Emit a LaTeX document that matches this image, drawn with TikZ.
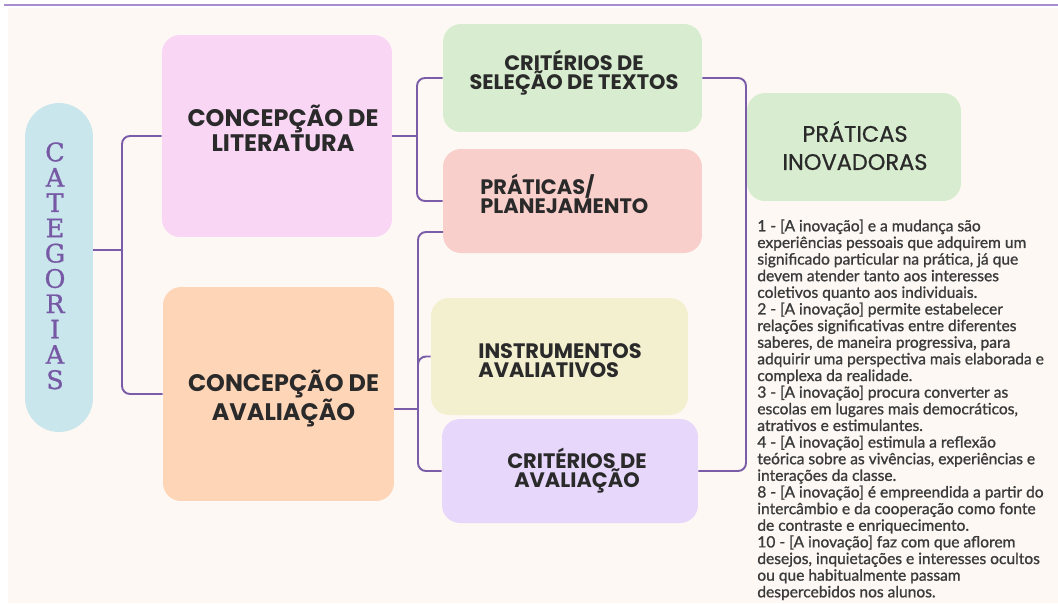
\documentclass[tikz,border=0pt]{standalone}
\usepackage{fontspec}
\usepackage{xcolor}
\usepackage{tikz}
\setmainfont{Lato}
\newfontfamily\poppins{Poppins}
\newfontfamily\poppinsmed[FakeBold=0.8]{Poppins}
\newfontfamily\slab[FakeBold=0.9]{DejaVu Serif}
\newfontfamily\parafont[FakeBold=1.1]{Lato}
\definecolor{bgcream}{HTML}{FDF8F4}
\definecolor{topline}{HTML}{A88ECA}
\definecolor{connpurple}{HTML}{7B5CA8}
\definecolor{letterpurple}{HTML}{7658A5}
\definecolor{ink}{HTML}{2A2A2A}
\definecolor{paragray}{HTML}{3B3B3B}
\definecolor{catfill}{HTML}{C9E6EC}
\definecolor{litfill}{HTML}{F8D6F4}
\definecolor{avafill}{HTML}{FED6B7}
\definecolor{selfill}{HTML}{D8EDCF}
\definecolor{plafill}{HTML}{F9CFCB}
\definecolor{insfill}{HTML}{F3F0D0}
\definecolor{cavfill}{HTML}{E7D7FB}

\begin{document}
\begin{tikzpicture}[x=0.02cm, y=-0.02cm,
		card/.style={rounded corners=0.36cm, inner sep=0pt},
		conn/.style={draw=connpurple, line width=1.1pt, rounded corners=0.16cm},
		bigtitle/.style={font=\poppins\bfseries\fontsize{13.6}{12.6}\selectfont, text=ink, align=center, inner sep=0pt},
		midtitle/.style={font=\poppins\bfseries\fontsize{11.9}{10.9}\selectfont, text=ink, inner sep=0pt},
		letter/.style={font=\slab\fontsize{14.5}{14.5}\selectfont, text=letterpurple, inner sep=0pt}]
	\useasboundingbox (0, 0) rectangle (1058, 603);
	
	%Page
	\fill[white] (0, 0) rectangle (1058, 603);
	\fill[bgcream] (8, 8) rectangle (1058, 603);
	\draw[topline, line width=1.2pt] (4, 5) -- (1058, 5);
	
	%Boxes
	\node[card, fill=catfill, rounded corners=0.68cm, minimum width=1.36cm, minimum height=6.58cm] (cat) at (59, 267.5) {};
	\node[card, fill=litfill, minimum width=4.6cm, minimum height=4.04cm] (lit) at (277, 136) {};
	\node[card, fill=avafill, minimum width=4.62cm, minimum height=4.28cm] (ava) at (278.5, 394) {};
	\node[card, fill=selfill, minimum width=5.18cm, minimum height=2.16cm] (sel) at (572.5, 78) {};
	\node[card, fill=plafill, minimum width=5.18cm, minimum height=2.08cm] (pla) at (572.5, 201) {};
	\node[card, fill=insfill, minimum width=5.14cm, minimum height=2.34cm] (ins) at (559.5, 356.5) {};
	\node[card, fill=cavfill, minimum width=5.12cm, minimum height=2.08cm] (cav) at (570, 471) {};
	\node[card, fill=selfill, minimum width=4.28cm, minimum height=2.16cm] (ino) at (854, 147) {};
	
	%Vertical title
	\foreach \l [count=\i from 0] in {C,A,T,E,G,O,R,I,A,S}
		\node[letter] (cat\i) at (55, {152+25.3*\i}) {\l};
	
	%Box titles
	\node[bigtitle] (litText) at (283, 128) {CONCEPÇÃO DE\\LITERATURA};
	\node[bigtitle] (avaText) at (283.5, 398.5) {CONCEPÇÃO DE\\AVALIAÇÃO};
	\node[midtitle, align=center] (selText) at (574, 72.5) {CRITÉRIOS DE\\SELEÇÃO DE TEXTOS};
	\node[midtitle, align=left, anchor=west] (plaText) at (480, 194) {PRÁTICAS/\\PLANEJAMENTO};
	\node[midtitle, align=left, anchor=west] (insText) at (478, 361) {INSTRUMENTOS\\AVALIATIVOS};
	\node[midtitle, align=center] (cavText) at (577, 470.5) {CRITÉRIOS DE\\AVALIAÇÃO};
	\node[font=\poppinsmed\fontsize{12.8}{16}\selectfont, text=ink, align=center, inner sep=0pt] (inoText) at (855, 145.5) {PRÁTICAS\\INOVADORAS};
	
	%Connectors
	\coordinate (j1) at (122, 250);
	\coordinate (j2) at (417, 136);
	\coordinate (j3) at (418, 409);
	\coordinate (j4) at (746, 276);
	\coordinate (p1) at (443, 232);
	\draw[conn] (cat.east |- j1) -- (j1);
	\draw[conn] (lit.west) -| (j1) |- (ava.west);
	\draw[conn] (lit.east) -- (j2);
	\draw[conn] (sel.west) -| (j2) |- (pla.west);
	\draw[conn] (ava.east |- j3) -- (j3);
	\draw[conn] (p1) -| (j3) |- (cav.west);
	\draw[conn] (ins.west) -| (j3);
	\draw[conn] (sel.east) -| (j4) |- (cav.east);
	
	%Notes
	\node[font=\parafont\fontsize{8.85}{9.47}\selectfont, text=paragray, align=left, anchor=north west, inner sep=0pt] (notes) at (757, 219) {1 - [A inovação] e a mudança são\\
experiências pessoais que adquirem um\\
significado particular na prática, já que\\
devem atender tanto aos interesses\\
coletivos quanto aos individuais.\\
2 - [A inovação] permite estabelecer\\
relações significativas entre diferentes\\
saberes, de maneira progressiva, para\\
adquirir uma perspectiva mais elaborada e\\
complexa da realidade.\\
3 - [A inovação] procura converter as\\
escolas em lugares mais democráticos,\\
atrativos e estimulantes.\\
4 - [A inovação] estimula a reflexão\\
teórica sobre as vivências, experiências e\\
interações da classe.\\
8 - [A inovação] é empreendida a partir do\\
intercâmbio e da cooperação como fonte\\
de contraste e enriquecimento.\\
10 - [A inovação] faz com que aflorem\\
desejos, inquietações e interesses ocultos\\
ou que habitualmente passam\\
despercebidos nos alunos.};
\end{tikzpicture}
\end{document}
